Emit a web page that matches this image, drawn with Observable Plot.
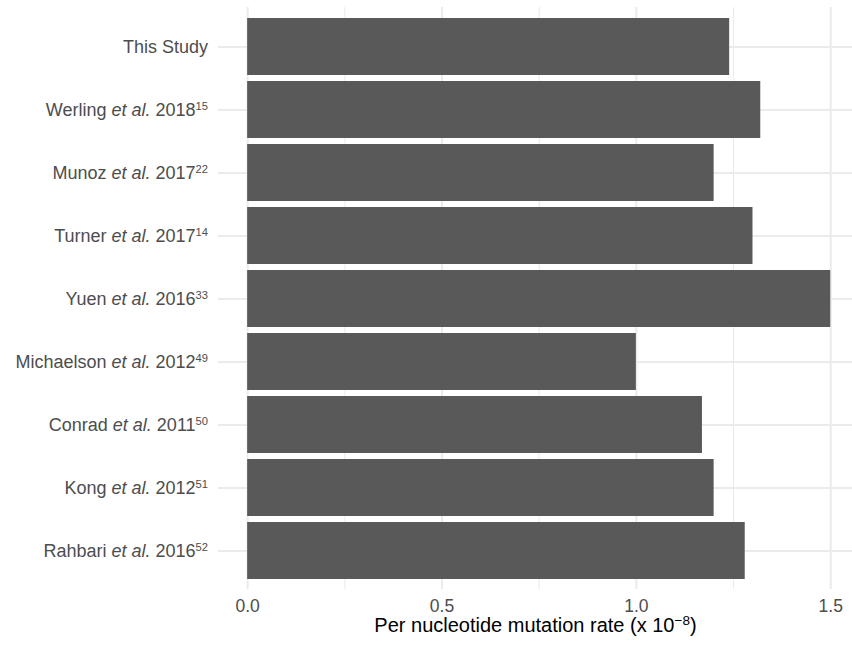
<!DOCTYPE html>
<html>
<head>
<meta charset="utf-8">
<script src="https://cdn.jsdelivr.net/npm/d3@7"></script>
<script src="https://cdn.jsdelivr.net/npm/@observablehq/plot@0.6"></script>
<style>
  body { margin: 0; background: #ffffff; }
  #chart svg { display: block; }
</style>
</head>
<body>
<div id="chart"></div>
<script>
// Published germline per-nucleotide mutation rate estimates (x 10^-8)
const authors = ["This Study", "Werling", "Munoz", "Turner", "Yuen", "Michaelson", "Conrad", "Kong", "Rahbari"];
const years   = [null, 2018, 2017, 2017, 2016, 2012, 2011, 2012, 2016];
const refs    = [null, 15, 22, 14, 33, 49, 50, 51, 52];
const rates   = [1.24, 1.32, 1.20, 1.30, 1.50, 1.00, 1.17, 1.20, 1.28];

const xTicks = [0, 0.5, 1, 1.5];
const xMinor = [0.25, 0.75, 1.25];
const xTitle = "Per nucleotide mutation rate (x 10";
const xTitleExp = "\u22128";
const xTitleEnd = ")";

const studies = authors.map((a, i) => ({author: a, year: years[i], ref: refs[i], rate: rates[i]}));

const FONT = "'Liberation Sans', Arial, Helvetica, sans-serif";
const GRID = "#ebebeb";

const chart = Plot.plot({
  width: 852,
  height: 648,
  marginLeft: 218,
  marginRight: 0,
  marginTop: 7,
  marginBottom: 59,
  style: {fontFamily: FONT, background: "#ffffff", color: "#4d4d4d"},
  x: {domain: [-0.075, 1.556]},
  y: {domain: authors, paddingInner: 0.1, paddingOuter: 0.15},
  marks: [
    Plot.gridX(xMinor, {stroke: GRID, strokeOpacity: 1, strokeWidth: 1.07}),
    Plot.gridX(xTicks, {stroke: GRID, strokeOpacity: 1, strokeWidth: 2.1}),
    Plot.gridY(authors, {stroke: GRID, strokeOpacity: 1, strokeWidth: 2.1}),
    Plot.barX(studies, {x: "rate", y: "author", fill: "#595959"}),
    Plot.axisX(xTicks, {
      tickSize: 0, tickPadding: 10, fontSize: 17.5, fill: "#4d4d4d",
      tickFormat: d3.format(".1f"), label: null
    }),
    Plot.axisY({
      tickSize: 0, tickPadding: 10.5, fontSize: 18, fill: "#4d4d4d", label: null
    }),
    Plot.text([xTitle], {
      frameAnchor: "bottom", dy: 42.5, fontSize: 20, fill: "#000000", text: d => d
    })
  ]
});

const svg = d3.select(chart);

// Study labels: author, italic "et al.", year and a superscript reference number
svg.selectAll('g[aria-label="y-axis tick label"] text').each(function() {
  const i = authors.indexOf(this.textContent);
  if (i < 0 || years[i] == null) return;
  const t = d3.select(this).text(null);
  t.append("tspan").text(authors[i] + " ");
  t.append("tspan").attr("font-style", "italic").text("et al.");
  t.append("tspan").text(" " + years[i]);
  t.append("tspan").attr("font-size", "0.62em").attr("dy", "-0.5em").text(refs[i]);
});

// Axis title with the exponent set as a superscript
svg.selectAll('g[aria-label="text"] text').each(function() {
  if (this.textContent !== xTitle) return;
  const t = d3.select(this);
  t.append("tspan").attr("font-size", "0.68em").attr("dy", "-0.55em").text(xTitleExp);
  t.append("tspan").attr("font-size", "1em").attr("dy", "0.374em").text(xTitleEnd);
});

document.getElementById("chart").appendChild(chart);
</script>
</body>
</html>
